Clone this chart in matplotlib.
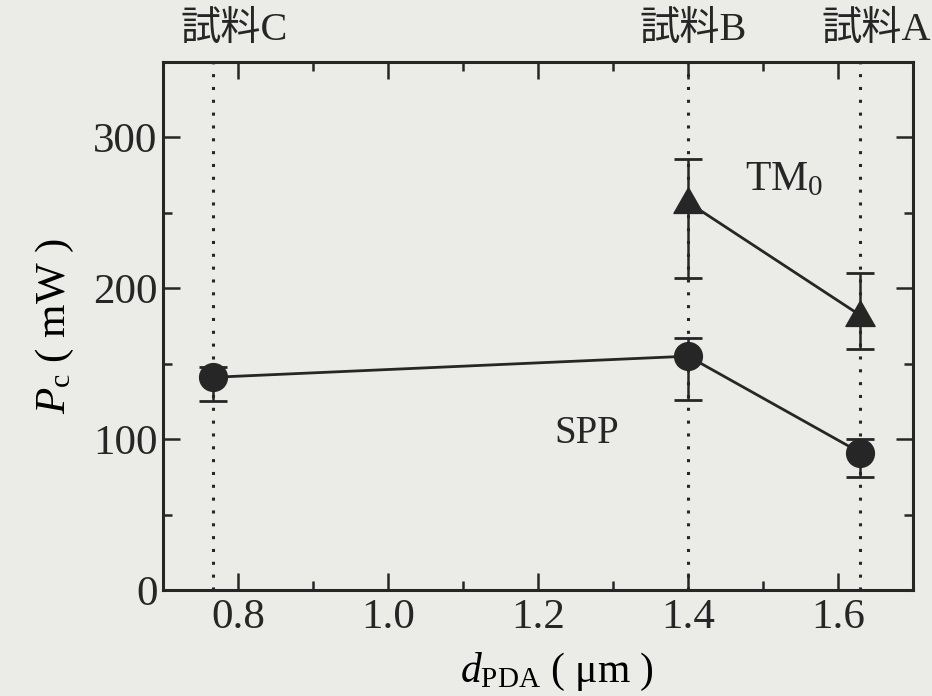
import matplotlib
matplotlib.use("Agg")
import matplotlib.pyplot as plt
from matplotlib.ticker import MultipleLocator, FixedLocator, FixedFormatter
from matplotlib.transforms import blended_transform_factory
from matplotlib.path import Path

# ---- data -------------------------------------------------------------
samples = ["試料C", "試料B", "試料A"]
sample_d = [0.767, 1.40, 1.63]          # PDA thickness of each sample (um)

spp_d = [0.767, 1.40, 1.63]
spp_pc = [141, 155, 91]                 # threshold power, SPP (mW)
spp_low = [125, 126, 75]
spp_high = [148, 167, 100]

tm0_d = [1.40, 1.63]
tm0_pc = [257, 182]                     # threshold power, TM0 (mW)
tm0_low = [207, 160]
tm0_high = [286, 210]

x_ticks = [0.8, 1.0, 1.2, 1.4, 1.6]
x_tick_labels = ["0.8", "1.0", "1.2", "1.4", "1.6"]
y_ticks = [0, 100, 200, 300]
y_tick_labels = ["0", "100", "200", "300"]

# ---- style ------------------------------------------------------------
bg = "#ebebe8"
ink = "#262626"
serif = "Liberation Serif"

plt.rcParams.update({
    "font.family": [serif, "Noto Sans CJK JP"],
    "mathtext.fontset": "custom",
    "mathtext.rm": serif,
    "mathtext.it": serif + ":italic",
    "mathtext.bf": serif + ":bold",
    "text.color": ink,
    "axes.edgecolor": ink,
    "xtick.color": ink,
    "ytick.color": ink,
})

fig = plt.figure(figsize=(9.32, 6.96), dpi=100, facecolor=bg)
ax = fig.add_axes([0.1749, 0.1523, 0.8047, 0.7586], facecolor=bg)

ax.set_xlim(0.70, 1.70)
ax.set_ylim(0, 350)

# sample positions
for d in sample_d:
    ax.axvline(d, color=ink, lw=2.2, ls=(0, (1.0, 3.2)), zorder=1)

trans = blended_transform_factory(ax.transData, ax.transAxes)
label_dx = [15, 4, 11]
for name, d, dx in zip(samples, sample_d, label_dx):
    ax.annotate(name, xy=(d, 1.0), xycoords=trans,
                xytext=(dx, 23), textcoords="offset points",
                ha="center", va="center", fontsize=29,
                family=[serif, "Noto Sans CJK JP"], annotation_clip=False)

# near-equilateral triangle marker
tri = Path([(-1.0, -0.75), (1.0, -0.75), (0.0, 1.0), (-1.0, -0.75)],
           [Path.MOVETO, Path.LINETO, Path.LINETO, Path.CLOSEPOLY])

err_kw = dict(fmt="none", ecolor=ink, elinewidth=1.8, capsize=10,
              capthick=2.0, zorder=2)

spp_err = [[v - l for v, l in zip(spp_pc, spp_low)],
           [h - v for v, h in zip(spp_pc, spp_high)]]
tm0_err = [[v - l for v, l in zip(tm0_pc, tm0_low)],
           [h - v for v, h in zip(tm0_pc, tm0_high)]]

ax.errorbar(spp_d, spp_pc, yerr=spp_err, **err_kw)
ax.errorbar(tm0_d, tm0_pc, yerr=tm0_err, **err_kw)

ax.plot(spp_d, spp_pc, color=ink, lw=2.0, marker="o", ms=20,
        mfc=ink, mec=ink, zorder=3)
ax.plot(tm0_d, tm0_pc, color=ink, lw=2.0, marker=tri, ms=21,
        mfc=ink, mec=ink, zorder=3)

ax.text(1.476, 272, r"TM$_0$", fontsize=30, ha="left", va="center")
ax.text(1.265, 104, "SPP", fontsize=28, ha="center", va="center")

# ticks
ax.xaxis.set_major_locator(FixedLocator(x_ticks))
ax.xaxis.set_major_formatter(FixedFormatter(x_tick_labels))
ax.xaxis.set_minor_locator(MultipleLocator(0.1))
ax.yaxis.set_major_locator(FixedLocator(y_ticks))
ax.yaxis.set_major_formatter(FixedFormatter(y_tick_labels))
ax.yaxis.set_minor_locator(MultipleLocator(50))

ax.tick_params(which="both", direction="in", top=True, right=True,
               width=1.8, labelsize=31, pad=6)
ax.tick_params(which="major", length=12)
ax.tick_params(which="minor", length=6.5)
ax.tick_params(axis="y", pad=4)

for s in ax.spines.values():
    s.set_linewidth(2.2)

ax.set_ylabel(r"$P_{\mathrm{c}}$ ( mW )", fontsize=31, labelpad=12)
ax.set_xlabel(r"$d_{\mathrm{PDA}}$ ( μm )", fontsize=30, labelpad=6)
ax.xaxis.set_label_coords(0.525, -0.115)

fig.savefig("out.png", dpi=100, facecolor=bg)
